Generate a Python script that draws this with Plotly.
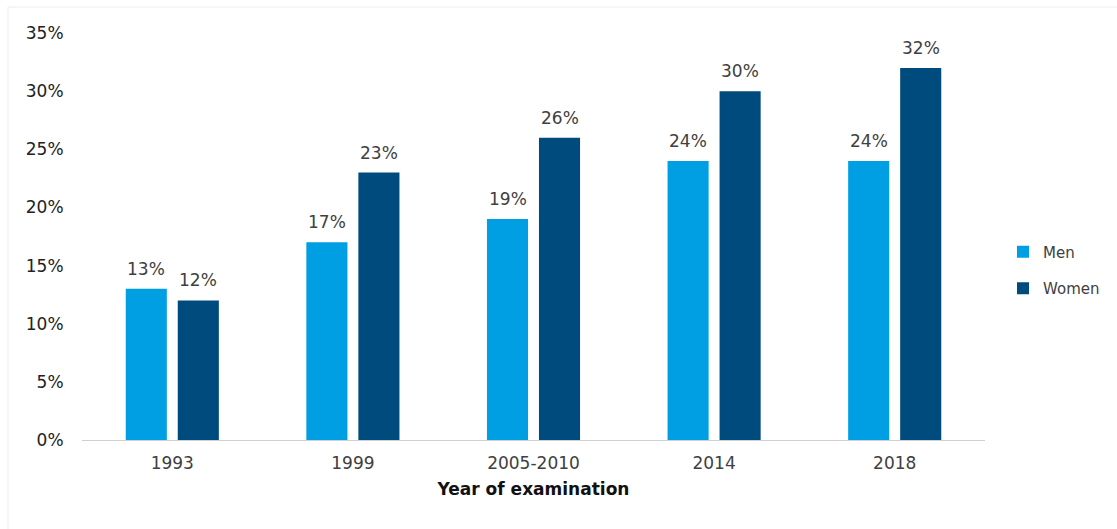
import plotly.graph_objects as go

years = ["1993", "1999", "2005-2010", "2014", "2018"]
men = [13, 17, 19, 24, 24]
women = [12, 23, 26, 30, 32]
y_ticks = [0, 5, 10, 15, 20, 25, 30, 35]

MEN_COLOR = "#009FE3"
WOMEN_COLOR = "#004B7D"
TEXT_COLOR = "#404040"
FONT = "DejaVu Sans, Verdana, sans-serif"

W, H = 1117, 529
L, R, T, B = 82, 132, 33, 89
pw, ph = W - L - R, H - T - B

fig = go.Figure()
series = [("Men", men, MEN_COLOR, -26), ("Women", women, WOMEN_COLOR, 26)]
for name, vals, color, _ in series:
    fig.add_trace(go.Bar(
        x=years, y=vals, name=name, legendgroup=name,
        marker=dict(color=color, line=dict(width=0)),
    ))

# value labels above each bar (x given as category index, since the
# year labels look numeric and would otherwise be read as positions)
annotations = []
for name, vals, color, dx in series:
    for i, v in enumerate(vals):
        annotations.append(dict(
            x=i, y=v, xref="x", yref="y", text=f"{v}%",
            showarrow=False, xshift=dx, yshift=20, yanchor="middle",
            font=dict(size=17, color=TEXT_COLOR, family=FONT),
        ))

fig.update_layout(
    width=W, height=H,
    margin=dict(l=L, r=R, t=T, b=B, autoexpand=False),
    paper_bgcolor="white", plot_bgcolor="white",
    barmode="group", bargap=0.424, bargroupgap=0.21,
    font=dict(family=FONT, size=17, color=TEXT_COLOR),
    showlegend=True,
    legend=dict(
        x=(1003 - L) / pw, y=(H - B - 270) / ph,
        xanchor="left", yanchor="middle",
        font=dict(size=15, color=TEXT_COLOR),
        itemwidth=30, tracegroupgap=14,
    ),
    annotations=annotations,
    xaxis=dict(
        type="category", categoryorder="array", categoryarray=years,
        range=[-0.5, len(years) - 0.5],
        showgrid=False, showline=True, linecolor="#D0D0D0", linewidth=1,
        ticks="outside", ticklen=8, tickcolor="rgba(0,0,0,0)",
        tickfont=dict(size=17, color=TEXT_COLOR),
        title=dict(text="<b>Year of examination</b>",
                   font=dict(size=17, color="#111111"), standoff=10),
    ),
    yaxis=dict(
        range=[0, 35], tickvals=y_ticks,
        ticktext=[f"{v}%" for v in y_ticks],
        showgrid=False, zeroline=False, showline=False,
        ticks="outside", ticklen=14, tickcolor="rgba(0,0,0,0)",
        tickfont=dict(size=17, color="#222222"),
    ),
    shapes=[
        dict(type="line", xref="paper", yref="paper",
             x0=(8 - L) / pw, x1=(W - L) / pw,
             y0=1 + (T - 7) / ph, y1=1 + (T - 7) / ph,
             line=dict(color="#EEEEEE", width=1)),
        dict(type="line", xref="paper", yref="paper",
             x0=(8 - L) / pw, x1=(8 - L) / pw,
             y0=1 + (T - 7) / ph, y1=-(H - T - ph) / ph,
             line=dict(color="#EEEEEE", width=1)),
    ],
)

fig.write_html("out.html")
